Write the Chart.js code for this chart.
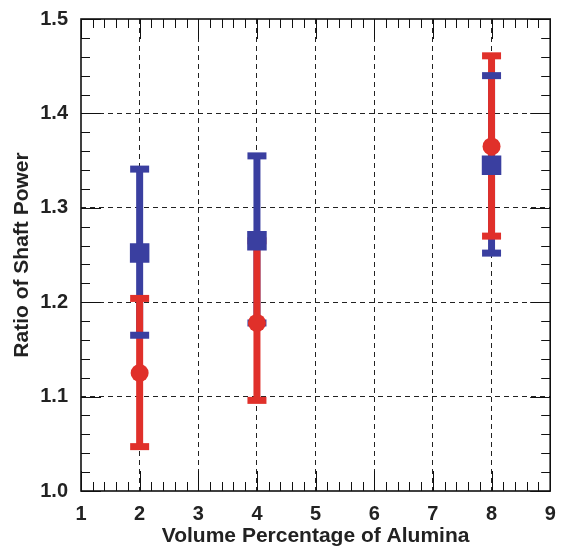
<!DOCTYPE html>
<html>
<head>
<meta charset="utf-8">
<script src="https://cdn.jsdelivr.net/npm/chart.js@4/dist/chart.umd.min.js"></script>
<style>
  html, body { margin: 0; padding: 0; background: #fff; overflow: hidden; }
  #wrap { width: 564px; height: 550px; }
  canvas { display: block; }
</style>
</head>
<body>
<div id="wrap"><canvas id="chart"></canvas></div>
<script>
// alumina content (vol %)
const xValues = [2, 4, 8];

// blue squares
const blueMean = [1.252, 1.265, 1.345];
const blueUpper = [1.341, 1.355, 1.440];
const blueLower = [1.165, 1.178, 1.252];

// red circles
const redMean = [1.125, 1.178, 1.365];
const redUpper = [1.204, 1.265, 1.461];
const redLower = [1.047, 1.096, 1.270];

const xTicks = [1, 2, 3, 4, 5, 6, 7, 8, 9];
const yTicks = [1.0, 1.1, 1.2, 1.3, 1.4, 1.5];

const BLUE = '#3a3fa0';
const RED = '#e0302a';
const FONT = '"Liberation Sans", Arial, sans-serif';

function toPoints(means) {
    return xValues.map((x, i) => ({ x: x, y: means[i] }));
}

// error bars: stems first, then caps (markers come after via datasets)
const errorBars = {
    id: 'errorBars',
    beforeDatasetsDraw(chart) {
        const { ctx, scales: { x, y } } = chart;
        const series = [
            { color: BLUE, lo: blueLower, hi: blueUpper },
            { color: RED, lo: redLower, hi: redUpper }
        ];
        ctx.save();
        ctx.lineCap = 'butt';
        series.forEach(s => {
            ctx.strokeStyle = s.color;
            ctx.lineWidth = 7;
            xValues.forEach((xv, i) => {
                const px = x.getPixelForValue(xv);
                ctx.beginPath();
                ctx.moveTo(px, y.getPixelForValue(s.lo[i]));
                ctx.lineTo(px, y.getPixelForValue(s.hi[i]));
                ctx.stroke();
            });
        });
        series.forEach(s => {
            ctx.strokeStyle = s.color;
            ctx.lineWidth = 7;
            xValues.forEach((xv, i) => {
                const px = x.getPixelForValue(xv);
                [s.lo[i], s.hi[i]].forEach(v => {
                    const py = y.getPixelForValue(v);
                    ctx.beginPath();
                    ctx.moveTo(px - 9.5, py);
                    ctx.lineTo(px + 9.5, py);
                    ctx.stroke();
                });
            });
        });
        ctx.restore();
    }
};

// frame plus inward major/minor ticks on all four sides
const frameTicks = {
    id: 'frameTicks',
    afterDraw(chart) {
        const { ctx, chartArea: a, scales: { x, y } } = chart;
        ctx.save();
        ctx.strokeStyle = '#111';
        ctx.lineWidth = 1;
        ctx.beginPath();
        for (let v = 1; v <= 9.0001; v += 0.2) {
            const major = Math.abs(v - Math.round(v)) < 1e-6;
            const len = major ? 20 : 9;
            const px = Math.round(x.getPixelForValue(v)) + 0.5;
            ctx.moveTo(px, a.bottom); ctx.lineTo(px, a.bottom - len);
            ctx.moveTo(px, a.top); ctx.lineTo(px, a.top + len);
        }
        for (let v = 1.0; v <= 1.5001; v += 0.02) {
            const major = Math.abs(v * 10 - Math.round(v * 10)) < 1e-6;
            const len = major ? 20 : 9;
            const py = Math.round(y.getPixelForValue(v)) + 0.5;
            ctx.moveTo(a.left, py); ctx.lineTo(a.left + len, py);
            ctx.moveTo(a.right, py); ctx.lineTo(a.right - len, py);
        }
        ctx.stroke();
        ctx.lineWidth = 1.6;
        ctx.strokeRect(a.left, a.top, a.right - a.left, a.bottom - a.top);
        ctx.restore();
    }
};

new Chart(document.getElementById('chart'), {
    type: 'scatter',
    data: {
        datasets: [
            {
                label: 'blue',
                data: toPoints(blueMean),
                order: 1,
                pointStyle: 'rect',
                pointRadius: 13.8,
                backgroundColor: BLUE,
                borderColor: BLUE,
                borderWidth: 0
            },
            {
                label: 'red',
                data: toPoints(redMean),
                order: 0,
                pointStyle: 'circle',
                pointRadius: 9,
                backgroundColor: RED,
                borderColor: RED,
                borderWidth: 0
            }
        ]
    },
    options: {
        responsive: true,
        maintainAspectRatio: false,
        animation: false,
        layout: { padding: { left: 0, top: 19, right: 11, bottom: 0 } },
        plugins: {
            legend: { display: false },
            tooltip: { enabled: false }
        },
        scales: {
            x: {
                type: 'linear',
                min: 1,
                max: 9,
                afterBuildTicks: s => { s.ticks = xTicks.map(v => ({ value: v })); },
                afterFit: s => { s.height = 59; s.paddingLeft = 0; s.paddingRight = 0; },
                border: { display: false, dash: [5, 4] },
                grid: {
                    drawTicks: false,
                    color: ctx => (ctx.tick && (ctx.tick.value === 1 || ctx.tick.value === 9)) ? 'rgba(0,0,0,0)' : '#222',
                    lineWidth: 1
                },
                ticks: {
                    padding: 11,
                    color: '#222',
                    font: { family: FONT, size: 20, weight: 'bold' },
                    callback: v => String(v)
                },
                title: {
                    display: true,
                    text: 'Volume Percentage of Alumina',
                    color: '#222',
                    font: { family: FONT, size: 21, weight: 'bold' },
                    padding: { top: 0, bottom: 1 }
                }
            },
            y: {
                type: 'linear',
                min: 1.0,
                max: 1.5,
                afterBuildTicks: s => { s.ticks = yTicks.map(v => ({ value: v })); },
                afterFit: s => { s.width = 81; s.paddingTop = 0; s.paddingBottom = 0; },
                border: { display: false, dash: [5, 4] },
                grid: {
                    drawTicks: false,
                    color: ctx => (ctx.tick && (ctx.tick.value === 1.0 || ctx.tick.value === 1.5)) ? 'rgba(0,0,0,0)' : '#222',
                    lineWidth: 1
                },
                ticks: {
                    padding: 13,
                    color: '#222',
                    font: { family: FONT, size: 20, weight: 'bold' },
                    callback: v => v.toFixed(1)
                },
                title: {
                    display: true,
                    text: 'Ratio of Shaft Power',
                    color: '#222',
                    font: { family: FONT, size: 21, weight: 'bold' },
                    padding: { top: 10, bottom: 0 }
                }
            }
        }
    },
    plugins: [errorBars, frameTicks]
});
</script>
</body>
</html>
